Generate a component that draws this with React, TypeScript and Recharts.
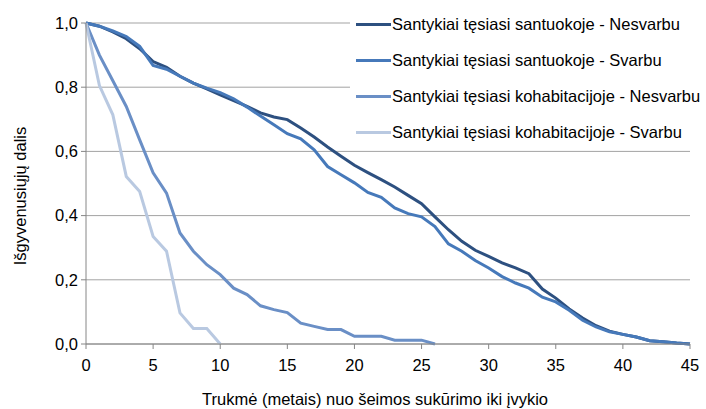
import React from 'react';
import { LineChart, Line, XAxis, YAxis, CartesianGrid, Legend } from 'recharts';

const years = [0, 1, 2, 3, 4, 5, 6, 7, 8, 9, 10, 11, 12, 13, 14, 15, 16, 17, 18, 19, 20, 21, 22, 23, 24, 25, 26, 27, 28, 29, 30, 31, 32, 33, 34, 35, 36, 37, 38, 39, 40, 41, 42, 43, 44, 45];

const santuokaNesvarbu = [1.0, 0.99, 0.972, 0.951, 0.92, 0.88, 0.862, 0.834, 0.813, 0.795, 0.776, 0.758, 0.74, 0.72, 0.707, 0.699, 0.673, 0.645, 0.614, 0.585, 0.557, 0.534, 0.512, 0.489, 0.463, 0.437, 0.396, 0.356, 0.32, 0.292, 0.273, 0.253, 0.237, 0.219, 0.171, 0.143, 0.109, 0.081, 0.057, 0.04, 0.03, 0.022, 0.01, 0.007, 0.003, 0.0];

const santuokaSvarbu = [1.0, 0.99, 0.975, 0.958, 0.927, 0.868, 0.856, 0.834, 0.813, 0.797, 0.783, 0.764, 0.738, 0.71, 0.683, 0.655, 0.639, 0.605, 0.553, 0.527, 0.502, 0.472, 0.457, 0.424, 0.406, 0.396, 0.366, 0.312, 0.289, 0.26, 0.237, 0.21, 0.19, 0.174, 0.146, 0.131, 0.105, 0.074, 0.053, 0.038, 0.03, 0.022, 0.01, 0.007, 0.003, 0.0];

const kohabNesvarbu = [1.0, 0.9, 0.82, 0.74, 0.636, 0.533, 0.47, 0.346, 0.289, 0.247, 0.216, 0.174, 0.154, 0.119, 0.107, 0.098, 0.065, 0.055, 0.045, 0.045, 0.024, 0.024, 0.024, 0.012, 0.012, 0.012, 0.0];

const kohabSvarbu = [1.0, 0.805, 0.714, 0.522, 0.475, 0.335, 0.289, 0.097, 0.048, 0.048, 0.0];

const seriesNames = [
  'Santykiai tęsiasi santuokoje - Nesvarbu',
  'Santykiai tęsiasi santuokoje - Svarbu',
  'Santykiai tęsiasi kohabitacijoje - Nesvarbu',
  'Santykiai tęsiasi kohabitacijoje - Svarbu',
];
const seriesKeys = ['s1', 's2', 's3', 's4'];
const seriesColors = ['#2d5080', '#4679ba', '#6a8fc6', '#b9c9e1'];

const xTicks = [0, 5, 10, 15, 20, 25, 30, 35, 40, 45];
const yTicks = [0, 0.2, 0.4, 0.6, 0.8, 1.0];

const xTitle = 'Trukmė (metais) nuo šeimos sukūrimo iki įvykio';
const yTitle = 'Išgyvenusiųjų dalis';

const data = years.map((y, i) => ({
  year: y,
  s1: santuokaNesvarbu[i] ?? null,
  s2: santuokaSvarbu[i] ?? null,
  s3: kohabNesvarbu[i] ?? null,
  s4: kohabSvarbu[i] ?? null,
}));

const FONT = '"Liberation Sans", Arial, sans-serif';
const FS = 16.5;

const LegendBox = () => (
  <div
    style={{
      background: '#fff',
      paddingTop: 6,
      paddingLeft: 6,
      height: 142,
      overflow: 'hidden',
      boxSizing: 'content-box',
    }}
  >
    {seriesNames.map((n, i) => (
      <div key={n} style={{ display: 'flex', alignItems: 'center', height: 36 }}>
        <div style={{ width: 35, height: 3, background: seriesColors[i], marginRight: 1 }} />
        <span style={{ fontFamily: FONT, fontSize: FS, color: '#000', whiteSpace: 'nowrap' }}>{n}</span>
      </div>
    ))}
  </div>
);

export default function App() {
  return (
    <div style={{ position: 'absolute', left: 0, top: 0, width: 706, height: 409, background: '#fff' }}>
      <LineChart width={706} height={409} data={data} margin={{ top: 23, right: 16, bottom: 0, left: 0 }}>
        <CartesianGrid vertical={false} stroke="#a3a3a3" strokeWidth={1} />
        <XAxis
          dataKey="year"
          type="number"
          domain={[0, 45]}
          ticks={xTicks}
          height={65}
          axisLine={{ stroke: '#868686' }}
          tickLine={{ stroke: '#868686' }}
          tickSize={5}
          tickMargin={10}
          tick={{ fill: '#000', fontFamily: FONT, fontSize: FS }}
          label={{
            content: () => (
              <text x={375} y={405} textAnchor="middle" fontFamily={FONT} fontSize={FS} fill="#000">
                {xTitle}
              </text>
            ),
          }}
        />
        <YAxis
          type="number"
          domain={[0, 1]}
          ticks={yTicks}
          width={86}
          axisLine={{ stroke: '#868686' }}
          tickLine={{ stroke: '#868686' }}
          tickSize={5}
          tickMargin={3}
          tickFormatter={(v: number) => v.toFixed(1).replace('.', ',')}
          tick={{ fill: '#000', fontFamily: FONT, fontSize: FS }}
          label={{
            content: () => (
              <text
                x={26}
                y={196}
                textAnchor="middle"
                transform="rotate(-90, 26, 196)"
                fontFamily={FONT}
                fontSize={FS}
                fill="#000"
              >
                {yTitle}
              </text>
            ),
          }}
        />
        <Legend
          layout="horizontal"
          verticalAlign="middle"
          align="center"
          content={() => <LegendBox />}
          wrapperStyle={{ position: 'absolute', left: 350, top: 0, width: 356, height: 148 }}
        />
        {seriesKeys.map((k, i) => (
          <Line
            key={k}
            type="linear"
            dataKey={k}
            name={seriesNames[i]}
            stroke={seriesColors[i]}
            strokeWidth={3}
            dot={false}
            activeDot={false}
            connectNulls={false}
            isAnimationActive={false}
          />
        ))}
      </LineChart>
    </div>
  );
}
